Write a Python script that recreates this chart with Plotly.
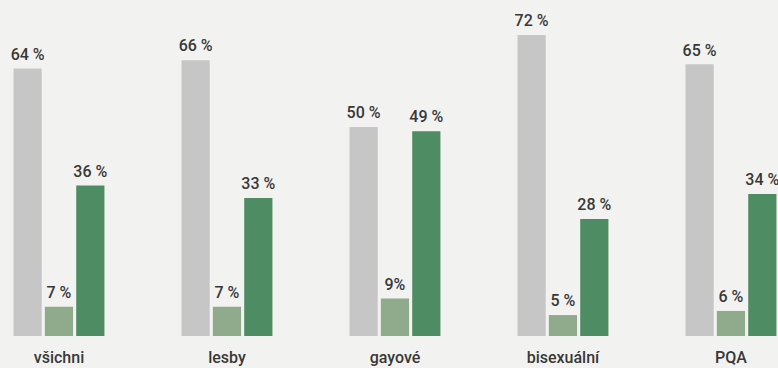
import plotly.graph_objects as go

categories = ["všichni", "lesby", "gayové", "bisexuální", "PQA"]
series_gray = [64, 66, 50, 72, 65]
series_light = [7, 7, 9, 5, 6]
series_dark = [36, 33, 49, 28, 34]
labels_gray = ["64 %", "66 %", "50 %", "72 %", "65 %"]
labels_light = ["7 %", "7 %", "9%", "5 %", "6 %"]
labels_dark = ["36 %", "33 %", "49 %", "28 %", "34 %"]

FONT = "Roboto, sans-serif"
GAP = 0.44
fig = go.Figure()
series = [
    (series_gray, labels_gray, "#c6c6c6"),
    (series_light, labels_light, "#8fab8c"),
    (series_dark, labels_dark, "#4e8c63"),
]
for i, (vals, labs, col) in enumerate(series):
    fig.add_trace(go.Bar(
        x=categories, y=vals, offsetgroup=str(i),
        marker=dict(color=col, line=dict(width=0)),
        hoverinfo="skip", showlegend=False,
    ))
for i, (vals, labs, col) in enumerate(series):
    fig.add_trace(go.Scatter(
        x=categories, y=vals, text=labs, mode="markers+text", offsetgroup=str(i),
        textposition="top center",
        marker=dict(size=6, opacity=0, color=col),
        textfont=dict(family=FONT, size=16, color="#383838", weight=500),
        cliponaxis=False, hoverinfo="skip", showlegend=False,
    ))

fig.update_layout(
    width=778, height=368,
    margin=dict(l=0, r=0, t=0, b=32),
    paper_bgcolor="#f2f3f0", plot_bgcolor="#f2f3f0",
    barmode="group", bargap=GAP, bargroupgap=0.1,
    scattermode="group", scattergap=GAP,
    xaxis=dict(range=[-0.351, 4.28], showgrid=False, showline=False, zeroline=False,
               tickfont=dict(family=FONT, size=16, color="#383838", weight=500), ticks="",
               ticklabelstandoff=10),
    yaxis=dict(range=[0, 80.4], visible=False, showgrid=False, zeroline=False),
)
fig.write_html("out.html", config={"displayModeBar": False},
               post_script="document.body.style.margin='0';document.body.style.background='#f2f3f0';")
